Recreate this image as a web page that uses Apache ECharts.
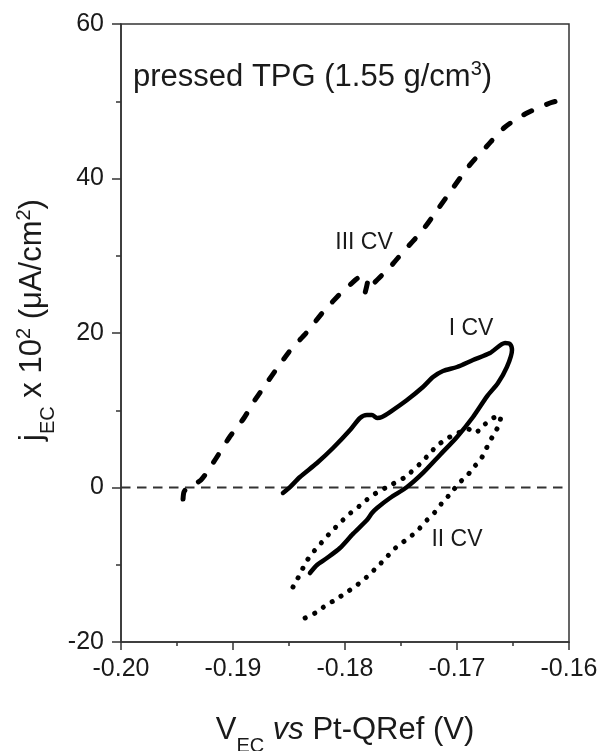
<!DOCTYPE html>
<html><head><meta charset="utf-8">
<script src="https://cdn.jsdelivr.net/npm/echarts@6/dist/echarts.min.js"></script>
<style>html,body{margin:0;padding:0;background:#fff}#c{width:606px;height:751px}</style>
</head><body><div id="c"></div><script>
// Axis ticks
const xTicks = [-0.20, -0.19, -0.18, -0.17, -0.16];
const yTicks = [-20, 0, 20, 40, 60];

// I CV (solid)
const cv1V = [-0.18554,-0.18491,-0.18402,-0.1825,-0.18107,-0.17955,-0.17866,-0.17804,-0.17759,-0.17714,-0.1767,-0.17598,-0.17446,-0.17304,-0.17214,-0.17125,-0.17,-0.16857,-0.16705,-0.16571,-0.16527,-0.16509,-0.16554,-0.16634,-0.16732,-0.16857,-0.17,-0.17152,-0.17304,-0.17446,-0.17598,-0.17714,-0.17759,-0.17804,-0.17929,-0.18045,-0.18161,-0.1825,-0.18313];
const cv1J = [-0.71,0.06,1.36,3.17,5.11,7.44,9.0,9.39,9.39,9.0,9.13,9.77,11.33,13.01,14.3,15.08,15.6,16.5,17.41,18.71,18.58,17.8,15.6,13.53,11.8,9.13,6.54,4.21,1.88,0.06,-1.36,-2.65,-3.3,-4.21,-6.0,-7.83,-9.13,-10.03,-11.07];

// II CV (dotted)
const cv2V = [-0.18464,-0.1842,-0.18375,-0.1833,-0.18268,-0.18205,-0.18134,-0.18063,-0.17991,-0.17929,-0.17848,-0.17777,-0.17705,-0.17625,-0.17464,-0.17313,-0.17241,-0.1717,-0.1708,-0.16991,-0.16902,-0.16839,-0.16768,-0.16679,-0.16607,-0.16625,-0.1667,-0.16723,-0.16786,-0.16857,-0.16911,-0.16982,-0.17045,-0.17134,-0.17196,-0.17268,-0.17348,-0.1742,-0.17491,-0.17571,-0.17634,-0.17714,-0.17786,-0.17857,-0.17929,-0.18009,-0.18089,-0.18179,-0.1825,-0.18339,-0.1842];
const cv2J = [-12.88,-11.72,-10.42,-9.26,-8.09,-7.06,-5.89,-4.85,-3.82,-3.04,-2.14,-1.23,-0.58,0.06,1.36,3.3,4.47,5.5,6.41,7.06,7.57,7.06,7.96,9.0,9.26,8.09,6.93,5.5,3.69,2.52,1.49,0.58,-0.58,-2.01,-3.17,-4.21,-5.5,-6.41,-7.18,-8.09,-9.13,-10.29,-11.33,-12.23,-13.01,-13.79,-14.56,-15.34,-16.12,-16.76,-17.41];

// III CV (dashed)
const cv3V = [-0.19446,-0.19438,-0.19411,-0.19286,-0.19161,-0.19036,-0.18902,-0.18804,-0.185,-0.18339,-0.18196,-0.18027,-0.17938,-0.17884,-0.1783,-0.17795,-0.17821,-0.17732,-0.17598,-0.17482,-0.17313,-0.1717,-0.17036,-0.16893,-0.16732,-0.16571,-0.16375,-0.1617,-0.16107];
const cv3J = [-1.5,-0.58,-0.1,0.97,3.56,6.41,9.0,11.33,17.54,20.13,22.72,25.31,26.47,27.12,27.25,26.99,25.18,26.6,28.54,30.49,33.2,36.05,38.77,41.62,44.21,46.67,48.48,49.77,50.03];

// zero reference line
const zeroV = [-0.20, -0.16];
const zeroJ = [0, 0];

const zip = (a, b) => a.map((v, i) => [v, b[i]]);
const FONT = '"Liberation Sans", Arial, sans-serif';
const TXT = '#1a1a1a';
const TF = 31;   // title font size
const SF = 20;   // sub/superscript size

const chart = echarts.init(document.getElementById('c'), null, {renderer: 'canvas'});
chart.setOption({
  animation: false,
  backgroundColor: '#ffffff',
  grid: {left: 121, right: 37, top: 24, bottom: 109, show: true, borderColor: '#333', borderWidth: 1.5, backgroundColor: 'transparent'},
  xAxis: {
    type: 'value', min: xTicks[0], max: xTicks[xTicks.length - 1], interval: 0.01,
    axisLine: {show: true, onZero: false, lineStyle: {color: '#333', width: 1.5}},
    axisTick: {show: true, inside: false, length: 8, lineStyle: {color: '#333', width: 1.5}},
    minorTick: {show: true, splitNumber: 2, length: 4, lineStyle: {color: '#333', width: 1.5}},
    splitLine: {show: false},
    axisLabel: {margin: 15, fontSize: 25, color: TXT, fontFamily: FONT, formatter: v => v.toFixed(2)}
  },
  yAxis: {
    type: 'value', min: yTicks[0], max: yTicks[yTicks.length - 1], interval: 20,
    axisLine: {show: true, onZero: false, lineStyle: {color: '#333', width: 1.5}},
    axisTick: {show: true, inside: false, length: 9, lineStyle: {color: '#333', width: 1.5}},
    minorTick: {show: true, splitNumber: 2, length: 5, lineStyle: {color: '#333', width: 1.5}},
    splitLine: {show: false},
    axisLabel: {margin: 17, fontSize: 25, color: TXT, fontFamily: FONT}
  },
  series: [
    {type: 'line', data: zip(zeroV, zeroJ), showSymbol: false, silent: true,
     lineStyle: {color: '#333', width: 2, type: [9.5, 6.5]}, z: 1},
    {name: 'I CV', type: 'line', data: zip(cv1V, cv1J), showSymbol: false, smooth: 0.25,
     lineStyle: {color: '#000', width: 4.5, cap: 'round', join: 'round'}, z: 3},
    {name: 'II CV', type: 'line', data: zip(cv2V, cv2J), showSymbol: false, smooth: 0.25,
     lineStyle: {color: '#000', width: 5, type: [0.1, 10.4], cap: 'round'}, z: 2},
    {name: 'III CV', type: 'line', data: zip(cv3V, cv3J), showSymbol: false, smooth: 0.25,
     lineStyle: {color: '#000', width: 5, type: [9, 16], cap: 'round', join: 'round'}, z: 2}
  ],
  graphic: [
    {type: 'text', x: 133, y: 77, style: {
      text: '{t|pressed TPG (1.55 g/cm}{p|3}{t|)}', align: 'left', verticalAlign: 'middle', fill: TXT,
      rich: {t: {fontSize: TF, fontFamily: FONT, fill: TXT, verticalAlign: 'middle', lineHeight: 36},
             p: {fontSize: SF, fontFamily: FONT, fill: TXT, verticalAlign: 'top', lineHeight: 20}}}},
    {type: 'text', x: 364, y: 243, style: {text: 'III CV', fontSize: 23, fontFamily: FONT, fill: TXT, align: 'center', verticalAlign: 'middle'}},
    {type: 'text', x: 471, y: 329, style: {text: 'I CV', fontSize: 23, fontFamily: FONT, fill: TXT, align: 'center', verticalAlign: 'middle'}},
    {type: 'text', x: 457, y: 540, style: {text: 'II CV', fontSize: 23, fontFamily: FONT, fill: TXT, align: 'center', verticalAlign: 'middle'}},
    {type: 'text', x: 345, y: 730, style: {
      text: '{t|V}{s|EC}{i| vs}{t| Pt-QRef (V)}', align: 'center', verticalAlign: 'middle', fill: TXT,
      rich: {t: {fontSize: TF, fontFamily: FONT, fill: TXT, verticalAlign: 'middle', lineHeight: 36},
             i: {fontSize: TF, fontFamily: FONT, fill: TXT, fontStyle: 'italic', verticalAlign: 'middle', lineHeight: 36},
             s: {fontSize: SF, fontFamily: FONT, fill: TXT, verticalAlign: 'bottom', lineHeight: 20, padding: [0, 0, -8, 0]}}}},
    {type: 'text', x: 32, y: 320, rotation: Math.PI / 2, style: {
      text: '{t|j}{s|EC}{t| x 10}{p|2}{t| (\u03bcA/cm}{p|2}{t|)}', align: 'center', verticalAlign: 'middle', fill: TXT,
      rich: {t: {fontSize: TF, fontFamily: FONT, fill: TXT, verticalAlign: 'middle', lineHeight: 36},
             s: {fontSize: SF, fontFamily: FONT, fill: TXT, verticalAlign: 'bottom', lineHeight: 20, padding: [0, 0, -8, 0]},
             p: {fontSize: SF, fontFamily: FONT, fill: TXT, verticalAlign: 'top', lineHeight: 20}}}}
  ]
});
</script></body></html>
